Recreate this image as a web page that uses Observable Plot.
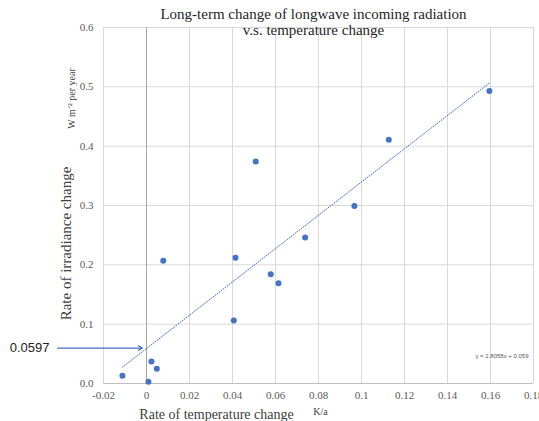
<!DOCTYPE html>
<html>
<head>
<meta charset="utf-8">
<script src="https://cdn.jsdelivr.net/npm/d3@7"></script>
<script src="https://cdn.jsdelivr.net/npm/@observablehq/plot@0.6"></script>
<style>
  html, body { margin: 0; padding: 0; background: #fff; }
</style>
</head>
<body>
<div id="chart"></div>
<script>
// Data
const tempRate = [-0.0112, 0.0009, 0.0023, 0.0048, 0.0078, 0.0406, 0.0414, 0.0508, 0.0578, 0.0614, 0.0738, 0.0967, 0.1127, 0.1595];
const irrRate  = [0.013, 0.003, 0.037, 0.025, 0.207, 0.106, 0.212, 0.374, 0.184, 0.169, 0.246, 0.299, 0.411, 0.493];

const xTicks = [-0.02, 0, 0.02, 0.04, 0.06, 0.08, 0.1, 0.12, 0.14, 0.16, 0.18];
const xTickLabels = ["-0.02", "0", "0.02", "0.04", "0.06", "0.08", "0.1", "0.12", "0.14", "0.16", "0.18"];
const yTicks = [0, 0.1, 0.2, 0.3, 0.4, 0.5, 0.6];
const yTickLabels = ["0.0", "0.1", "0.2", "0.3", "0.4", "0.5", "0.6"];

const trendSlope = 2.8058;
const trendIntercept = 0.059;
const trendLabel = "y = 2.8058x + 0.059";

const markedValue = [0.0597];
const markedLabel = ["0.0597"];
const arrowFromX = [-0.0414];
const arrowToX = [-0.0019];

const titleText = "Long-term change of longwave incoming radiation\nv.s. temperature change";
const yLabel = "Rate of irradiance change";
const yUnit = "W m\u207B\u00B2 per year";
const xLabel = "Rate of temperature change";
const xUnit = "K/a";

const points = tempRate.map((x, i) => ({x, y: irrRate[i]}));
const xMin = d3.min(tempRate), xMax = d3.max(tempRate);
const trend = [xMin, xMax].map(x => ({x, y: trendSlope * x + trendIntercept}));
const arrowData = markedValue.map((v, i) => ({x1: arrowFromX[i], x2: arrowToX[i], y: v, label: markedLabel[i]}));

const blue = "#4472C4";
const serif = "Liberation Serif";

const chart = Plot.plot({
  width: 539,
  height: 421,
  marginLeft: 103,
  marginRight: 6,
  marginTop: 27,
  marginBottom: 38,
  style: {fontFamily: serif, fontSize: "11px", color: "#595959", background: "#fff", overflow: "visible"},
  x: {domain: [-0.02, 0.18], ticks: xTicks, tickFormat: (d, i) => xTickLabels[i], tickSize: 0, tickPadding: 8, label: null},
  y: {domain: [0, 0.6], ticks: yTicks, tickFormat: (d, i) => yTickLabels[i], tickSize: 0, tickPadding: 10, label: null},
  marks: [
    Plot.gridX(xTicks, {stroke: "#d9d9d9", strokeOpacity: 1, strokeWidth: 1}),
    Plot.gridY(yTicks, {stroke: "#d9d9d9", strokeOpacity: 1, strokeWidth: 1}),
    Plot.ruleX([0], {stroke: "#a6a6a6", strokeWidth: 1}),
    Plot.ruleY([0], {stroke: "#bfbfbf", strokeWidth: 1}),
    Plot.line(trend, {x: "x", y: "y", stroke: blue, strokeWidth: 1, strokeDasharray: "1,1.6"}),
    Plot.dot(points, {x: "x", y: "y", r: 3, fill: blue, stroke: "none"}),
    Plot.arrow(arrowData, {x1: "x1", x2: "x2", y1: "y", y2: "y", stroke: blue, strokeWidth: 1.2, headLength: 6, clip: false}),
    Plot.text(arrowData, {x: "x1", y: "y", text: "label", textAnchor: "end", dx: -8, fontFamily: "Liberation Sans", fontSize: 13, fill: "#222", clip: false}),
    Plot.text([titleText], {frameAnchor: "top", textAnchor: "middle", lineAnchor: "middle", dx: -5, dy: -6, lineHeight: 1.1, fontSize: 15, fill: "#262626"}),
    Plot.text([yLabel], {frameAnchor: "left", textAnchor: "middle", lineAnchor: "middle", rotate: -90, dx: -37, dy: 38, fontSize: 15, fill: "#404040"}),
    Plot.text([yUnit], {frameAnchor: "left", textAnchor: "middle", lineAnchor: "middle", rotate: -90, dx: -32, dy: -107, fontSize: 10, fill: "#404040"}),
    Plot.text([xLabel], {frameAnchor: "bottom", textAnchor: "middle", lineAnchor: "middle", dx: -102, dy: 31, fontSize: 14, fill: "#404040"}),
    Plot.text([xUnit], {frameAnchor: "bottom", textAnchor: "middle", lineAnchor: "middle", dx: 2, dy: 28, fontSize: 10, fill: "#404040"}),
    Plot.text([trendLabel], {frameAnchor: "bottom-right", textAnchor: "end", lineAnchor: "middle", dx: -5, dy: -27, fontFamily: "Liberation Sans", fontSize: 6, fill: "#595959"})
  ]
});
document.getElementById("chart").append(chart);
</script>
</body>
</html>
